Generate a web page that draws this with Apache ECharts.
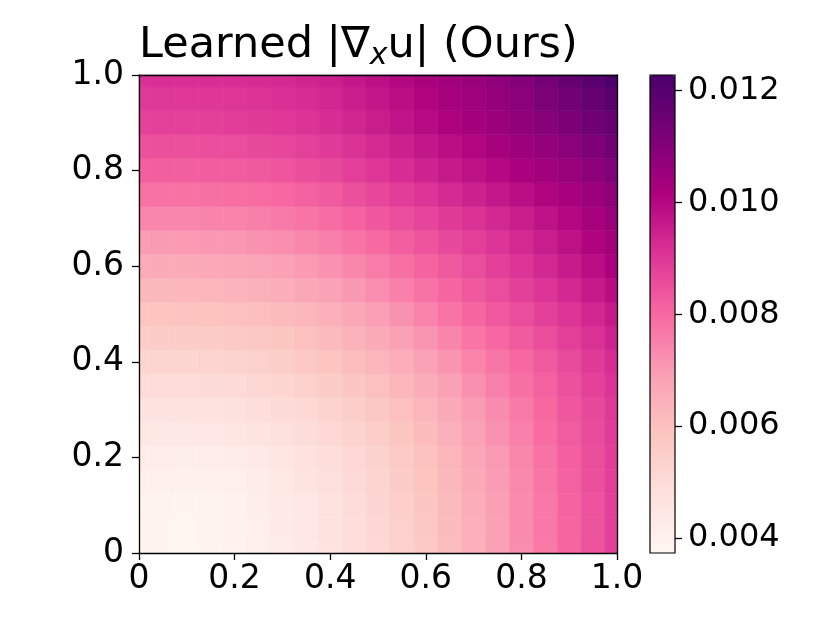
<!DOCTYPE html>
<html><head><meta charset="utf-8">
<script src="https://cdn.jsdelivr.net/npm/echarts@6/dist/echarts.min.js"></script>
<style>html,body{margin:0;padding:0;background:#fff}#chart{width:830px;height:623px}</style>
</head><body><div id="chart"></div>
<script>
// grid sample positions (x and y of the field)
const xCoords = [0,0.05,0.1,0.15,0.2,0.25,0.3,0.35,0.4,0.45,0.5,0.55,0.6,0.65,0.7,0.75,0.8,0.85,0.9,0.95,1.0];
const yCoords = [0,0.05,0.1,0.15,0.2,0.25,0.3,0.35,0.4,0.45,0.5,0.55,0.6,0.65,0.7,0.75,0.8,0.85,0.9,0.95,1.0];
// |grad_x u|, one row per y (bottom to top), one entry per x
const gradRows = [
[0.00390,0.00386,0.00382,0.00388,0.00394,0.00409,0.00424,0.00443,0.00463,0.00486,0.00510,0.00539,0.00570,0.00608,0.00647,0.00687,0.00728,0.00766,0.00805,0.00843,0.00882],
[0.00392,0.00388,0.00384,0.00390,0.00397,0.00412,0.00427,0.00446,0.00465,0.00489,0.00514,0.00543,0.00574,0.00611,0.00649,0.00689,0.00730,0.00768,0.00807,0.00844,0.00882],
[0.00394,0.00390,0.00386,0.00392,0.00399,0.00414,0.00429,0.00448,0.00467,0.00492,0.00518,0.00547,0.00578,0.00614,0.00651,0.00691,0.00732,0.00770,0.00809,0.00845,0.00882],
[0.00407,0.00404,0.00401,0.00406,0.00412,0.00426,0.00440,0.00459,0.00478,0.00502,0.00527,0.00556,0.00587,0.00623,0.00660,0.00698,0.00737,0.00775,0.00814,0.00849,0.00884],
[0.00420,0.00418,0.00416,0.00420,0.00424,0.00437,0.00450,0.00469,0.00488,0.00511,0.00535,0.00564,0.00595,0.00631,0.00668,0.00704,0.00741,0.00779,0.00818,0.00852,0.00886],
[0.00444,0.00443,0.00442,0.00446,0.00450,0.00462,0.00474,0.00491,0.00510,0.00532,0.00555,0.00583,0.00613,0.00648,0.00683,0.00718,0.00754,0.00790,0.00827,0.00859,0.00891],
[0.00467,0.00467,0.00467,0.00471,0.00476,0.00486,0.00497,0.00513,0.00531,0.00552,0.00574,0.00601,0.00630,0.00664,0.00698,0.00732,0.00766,0.00800,0.00835,0.00865,0.00895],
[0.00495,0.00495,0.00496,0.00500,0.00505,0.00514,0.00525,0.00541,0.00559,0.00580,0.00602,0.00628,0.00656,0.00689,0.00722,0.00753,0.00784,0.00815,0.00848,0.00879,0.00910],
[0.00523,0.00523,0.00524,0.00528,0.00533,0.00542,0.00553,0.00569,0.00587,0.00608,0.00630,0.00655,0.00681,0.00713,0.00745,0.00773,0.00801,0.00830,0.00860,0.00892,0.00924],
[0.00555,0.00556,0.00557,0.00561,0.00565,0.00574,0.00584,0.00600,0.00617,0.00639,0.00662,0.00688,0.00715,0.00745,0.00775,0.00802,0.00829,0.00856,0.00884,0.00914,0.00944],
[0.00587,0.00588,0.00589,0.00593,0.00597,0.00605,0.00615,0.00630,0.00647,0.00670,0.00694,0.00721,0.00749,0.00777,0.00805,0.00831,0.00856,0.00881,0.00907,0.00935,0.00963],
[0.00623,0.00624,0.00626,0.00630,0.00634,0.00642,0.00652,0.00667,0.00683,0.00705,0.00728,0.00753,0.00779,0.00805,0.00831,0.00856,0.00882,0.00907,0.00933,0.00962,0.00991],
[0.00659,0.00660,0.00662,0.00666,0.00670,0.00679,0.00689,0.00703,0.00719,0.00740,0.00762,0.00785,0.00809,0.00832,0.00856,0.00881,0.00907,0.00933,0.00959,0.00989,0.01019],
[0.00700,0.00701,0.00703,0.00706,0.00710,0.00718,0.00727,0.00741,0.00756,0.00777,0.00799,0.00820,0.00841,0.00862,0.00884,0.00907,0.00931,0.00955,0.00980,0.01009,0.01038],
[0.00741,0.00742,0.00743,0.00746,0.00749,0.00756,0.00765,0.00778,0.00792,0.00813,0.00835,0.00854,0.00873,0.00892,0.00912,0.00933,0.00954,0.00977,0.01001,0.01029,0.01057],
[0.00780,0.00781,0.00782,0.00785,0.00788,0.00794,0.00802,0.00815,0.00829,0.00849,0.00869,0.00888,0.00908,0.00927,0.00946,0.00966,0.00987,0.01008,0.01029,0.01056,0.01083],
[0.00818,0.00819,0.00820,0.00823,0.00826,0.00832,0.00839,0.00851,0.00865,0.00884,0.00903,0.00922,0.00942,0.00961,0.00980,0.00999,0.01019,0.01038,0.01057,0.01082,0.01108],
[0.00848,0.00849,0.00850,0.00853,0.00856,0.00862,0.00869,0.00880,0.00893,0.00911,0.00929,0.00948,0.00968,0.00987,0.01006,0.01026,0.01047,0.01067,0.01087,0.01112,0.01138],
[0.00877,0.00878,0.00880,0.00883,0.00886,0.00892,0.00899,0.00909,0.00920,0.00937,0.00954,0.00973,0.00993,0.01012,0.01031,0.01052,0.01074,0.01095,0.01117,0.01142,0.01168],
[0.00897,0.00898,0.00899,0.00902,0.00904,0.00909,0.00915,0.00924,0.00935,0.00952,0.00969,0.00988,0.01008,0.01026,0.01044,0.01066,0.01089,0.01115,0.01141,0.01167,0.01194],
[0.00916,0.00917,0.00918,0.00920,0.00922,0.00926,0.00930,0.00939,0.00950,0.00966,0.00984,0.01003,0.01023,0.01040,0.01057,0.01080,0.01104,0.01134,0.01164,0.01191,0.01219]
];
const axisTicks = [0, 0.2, 0.4, 0.6, 0.8, 1.0];
const colorbarTicks = [0.004, 0.006, 0.008, 0.010, 0.012];
const colorMin = 0.00373;
const colorMax = 0.01228;
const rdPu = ['#fff7f3','#fde0dd','#fcc5c0','#fa9fb5','#f768a1','#dd3497','#ae017e','#7a0177','#49006a'];

const FONT = 'DejaVu Sans';
const cells = [];
yCoords.forEach(function (y, j) {
  xCoords.forEach(function (x, i) { cells.push([x, y, gradRows[j][i]]); });
});
const halfX = (xCoords[1] - xCoords[0]) / 2;
const halfY = (yCoords[1] - yCoords[0]) / 2;

const black = '#000';
const tickFmt = function (v) { return v === 0 ? '0' : v.toFixed(1); };
function frameAxis(pos, grid) {
  return {
    type: 'value', gridIndex: grid, position: pos, min: 0, max: 1,
    axisLine: { show: true, onZero: false, lineStyle: { color: black, width: 1.3 } },
    axisTick: { show: false }, axisLabel: { show: false }, splitLine: { show: false }, z: 10
  };
}

const chart = echarts.init(document.getElementById('chart'), null, { renderer: 'canvas' });
chart.setOption({
  animation: false,
  backgroundColor: '#fff',
  title: {
    left: 139, top: 21, padding: 0,
    text: '{m|Learned |∇}{s|x}{m|u| (Ours)}',
    textStyle: {
      fontWeight: 'normal',
      rich: {
        m: { fontFamily: FONT, fontSize: 43, fontWeight: 'normal', color: black, lineHeight: 50 },
        s: { fontFamily: FONT, fontSize: 30, fontWeight: 'normal', fontStyle: 'italic', color: black, lineHeight: 28, verticalAlign: 'bottom' }
      }
    }
  },
  grid: [
    { left: 139, top: 75, width: 478, height: 478, show: false, containLabel: false },
    { left: 650, top: 75, width: 25, height: 478, show: true, borderColor: black, borderWidth: 1.2, backgroundColor: 'transparent', z: 10 }
  ],
  xAxis: [
    {
      type: 'value', gridIndex: 0, position: 'bottom', min: 0, max: 1, interval: 0.2,
      axisLine: { show: true, onZero: false, lineStyle: { color: black, width: 1.3 } },
      axisTick: { show: true, length: 7, lineStyle: { color: black, width: 1.3 } },
      axisLabel: { fontFamily: FONT, fontSize: 33, color: black, margin: 10, formatter: tickFmt },
      splitLine: { show: false }, z: 10
    },
    frameAxis('top', 0),
    { type: 'value', gridIndex: 1, min: 0, max: 1, show: false }
  ],
  yAxis: [
    {
      type: 'value', gridIndex: 0, position: 'left', min: 0, max: 1, interval: 0.2,
      axisLine: { show: true, onZero: false, lineStyle: { color: black, width: 1.3 } },
      axisTick: { show: true, length: 7, lineStyle: { color: black, width: 1.3 } },
      axisLabel: { fontFamily: FONT, fontSize: 33, color: black, margin: 15, formatter: tickFmt },
      splitLine: { show: false }, z: 10
    },
    frameAxis('right', 0),
    {
      type: 'value', gridIndex: 1, position: 'right', min: colorMin, max: colorMax,
      axisLine: { show: false, onZero: false },
      axisTick: { show: true, inside: false, length: 7, customValues: colorbarTicks, lineStyle: { color: black, width: 1.3 } },
      axisLabel: { fontFamily: FONT, fontSize: 32, color: black, margin: 13, customValues: colorbarTicks,
        formatter: function (v) { return v.toFixed(3); } },
      splitLine: { show: false }, z: 10
    }
  ],
  visualMap: {
    type: 'continuous', min: colorMin, max: colorMax, dimension: 2, seriesIndex: 0,
    inRange: { color: rdPu }, calculable: false, orient: 'vertical',
    left: 650, top: 75, itemWidth: 25, itemHeight: 478, padding: 0, hoverLink: false,
    text: null, textStyle: { fontSize: 0 }
  },
  series: [{
    type: 'custom', xAxisIndex: 0, yAxisIndex: 0, data: cells,
    encode: { x: 0, y: 1 },
    renderItem: function (params, api) {
      const x = api.value(0), y = api.value(1);
      const a = api.coord([x - halfX, y + halfY]);
      const b = api.coord([x + halfX, y - halfY]);
      const cs = params.coordSys;
      const shape = echarts.graphic.clipRectByRect(
        { x: a[0], y: a[1], width: b[0] - a[0], height: b[1] - a[1] },
        { x: cs.x, y: cs.y, width: cs.width, height: cs.height });
      if (!shape) return;
      const c = api.visual('color');
      return { type: 'rect', shape: shape, style: { fill: c, stroke: c, lineWidth: 0.6 } };
    }
  }]
});
</script></body></html>
